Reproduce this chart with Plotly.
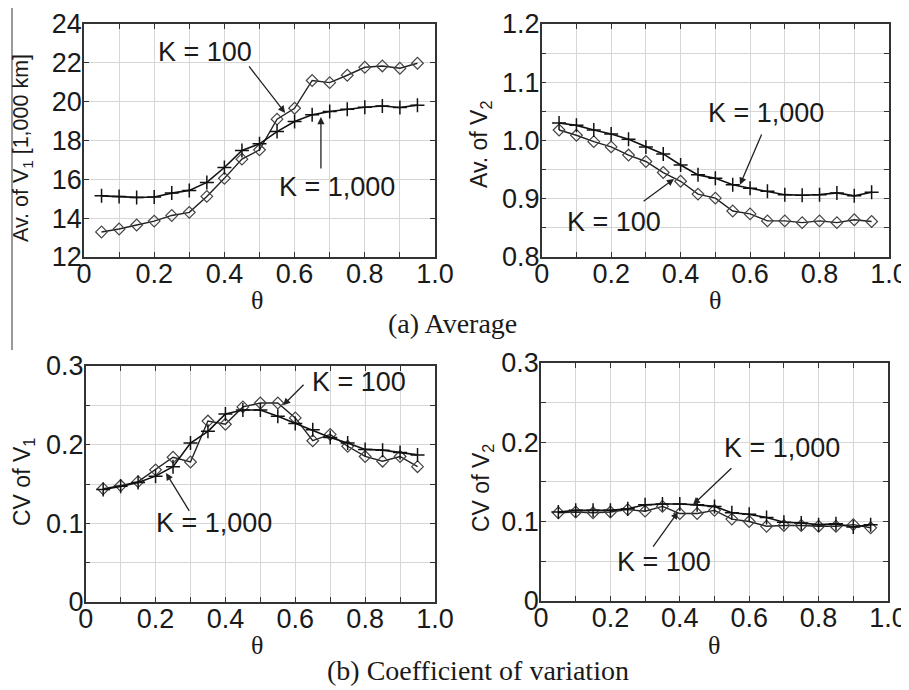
import plotly.graph_objects as go

theta = [0.05, 0.10, 0.15, 0.20, 0.25, 0.30, 0.35, 0.40, 0.45, 0.50,
         0.55, 0.60, 0.65, 0.70, 0.75, 0.80, 0.85, 0.90, 0.95]

av_v1_k100 = [13.29, 13.44, 13.65, 13.85, 14.14, 14.30, 15.12, 16.05, 17.04, 17.52,
              19.10, 19.66, 21.09, 20.98, 21.36, 21.77, 21.84, 21.72, 21.98]
av_v1_k1000 = [15.15, 15.12, 15.07, 15.09, 15.29, 15.43, 15.84, 16.61, 17.49, 17.83,
               18.46, 18.98, 19.32, 19.49, 19.61, 19.71, 19.78, 19.70, 19.82]

av_v2_k100 = [1.018, 1.009, 0.998, 0.989, 0.975, 0.964, 0.945, 0.930, 0.908, 0.901,
              0.879, 0.874, 0.862, 0.862, 0.859, 0.862, 0.859, 0.864, 0.861]
av_v2_k1000 = [1.030, 1.026, 1.018, 1.011, 1.002, 0.989, 0.977, 0.958, 0.941, 0.935,
               0.924, 0.918, 0.913, 0.907, 0.906, 0.907, 0.910, 0.905, 0.911]

cv_v1_k100 = [0.144, 0.148, 0.153, 0.168, 0.184, 0.178, 0.230, 0.226, 0.248, 0.253,
              0.253, 0.234, 0.205, 0.213, 0.198, 0.185, 0.179, 0.185, 0.172]
cv_v1_k1000 = [0.143, 0.147, 0.152, 0.160, 0.172, 0.202, 0.217, 0.239, 0.244, 0.244,
               0.236, 0.227, 0.219, 0.209, 0.202, 0.194, 0.193, 0.190, 0.187]

cv_v2_k100 = [0.111, 0.112, 0.111, 0.112, 0.115, 0.113, 0.119, 0.110, 0.110, 0.114,
              0.103, 0.100, 0.094, 0.095, 0.095, 0.094, 0.094, 0.096, 0.092]
cv_v2_k1000 = [0.112, 0.114, 0.114, 0.114, 0.116, 0.121, 0.122, 0.122, 0.121, 0.119,
               0.111, 0.109, 0.105, 0.099, 0.098, 0.096, 0.097, 0.093, 0.096]

x_tickvals = [0, 0.1, 0.2, 0.3, 0.4, 0.5, 0.6, 0.7, 0.8, 0.9, 1.0]
x_ticktext = ["0", "", "0.2", "", "0.4", "", "0.6", "", "0.8", "", "1.0"]

y1_tickvals = [12, 14, 16, 18, 20, 22, 24]
y1_ticktext = ["12", "14", "16", "18", "20", "22", "24"]
y2_tickvals = [0.8, 0.85, 0.9, 0.95, 1.0, 1.05, 1.1, 1.15, 1.2]
y2_ticktext = ["0.8", "", "0.9", "", "1.0", "", "1.1", "", "1.2"]
y3_tickvals = [0, 0.05, 0.1, 0.15, 0.2, 0.25, 0.3]
y3_ticktext = ["0", "", "0.1", "", "0.2", "", "0.3"]

series_names = ["K = 100", "K = 1,000"]
y_titles = ["Av. of V<sub>1</sub> [1,000 km]", "Av. of V<sub>2</sub>",
            "CV of V<sub>1</sub>", "CV of V<sub>2</sub>"]
captions = ["(a) Average", "(b) Coefficient of variation"]

SANS = "Liberation Sans, Arial, sans-serif"
SERIF = "Liberation Serif, Times New Roman, serif"
TXT = "#1a1a1a"

OFF = 8.0  # page body margin
W, H = 909.0 - OFF, 690.0 - OFF  # keep the figure inside the window


def fx(px):
    return (px - OFF) / W


def fy(py):
    return 1 - (py - OFF) / H


fig = go.Figure()

panels = [
    ("x", "y", av_v1_k100, av_v1_k1000),
    ("x2", "y2", av_v2_k100, av_v2_k1000),
    ("x3", "y3", cv_v1_k100, cv_v1_k1000),
    ("x4", "y4", cv_v2_k100, cv_v2_k1000),
]
for xa, ya, k100, k1000 in panels:
    fig.add_trace(go.Scatter(
        x=theta, y=k100, xaxis=xa, yaxis=ya, mode="lines+markers",
        name=series_names[0], showlegend=False,
        line=dict(color="#222222", width=1.4),
        marker=dict(symbol="diamond-open", size=9, color="#444444",
                    line=dict(width=1.2, color="#444444"))))
    fig.add_trace(go.Scatter(
        x=theta, y=k1000, xaxis=xa, yaxis=ya, mode="lines+markers",
        name=series_names[1], showlegend=False,
        line=dict(color="#111111", width=1.6),
        marker=dict(symbol="cross-thin-open", size=10, color="#111111",
                    line=dict(width=1.5, color="#111111"))))


def xaxis(domain, anchor):
    return dict(domain=domain, anchor=anchor, range=[0, 1], automargin=False,
                tickvals=x_tickvals, ticktext=x_ticktext, ticklabelstandoff=-8,
                showline=True, linecolor="#333333", linewidth=1.5, mirror="ticks",
                ticks="inside", ticklen=5, tickcolor="#333333",
                showgrid=True, gridcolor="#d6d6d6", gridwidth=1, zeroline=False,
                tickfont=dict(family=SANS, size=27, color=TXT))


def yaxis(domain, anchor, rng, tv, tt):
    return dict(domain=domain, anchor=anchor, range=rng, automargin=False,
                tickvals=tv, ticktext=tt, ticklabelstandoff=-5,
                showline=True, linecolor="#333333", linewidth=1.5, mirror="ticks",
                ticks="inside", ticklen=5, tickcolor="#333333",
                showgrid=True, gridcolor="#d6d6d6", gridwidth=1, zeroline=False,
                tickfont=dict(family=SANS, size=27, color=TXT))


fig.update_layout(
    width=int(W), height=int(H),
    margin=dict(l=0, r=0, t=0, b=0, pad=0),
    paper_bgcolor="white", plot_bgcolor="white",
    xaxis=xaxis([fx(84), fx(435)], "y"),
    yaxis=yaxis([fy(257), fy(24)], "x", [12, 24], y1_tickvals, y1_ticktext),
    xaxis2=xaxis([fx(541.7), fx(889)], "y2"),
    yaxis2=yaxis([fy(257), fy(24)], "x2", [0.8, 1.2], y2_tickvals, y2_ticktext),
    xaxis3=xaxis([fx(85.7), fx(435)], "y3"),
    yaxis3=yaxis([fy(602), fy(366)], "x3", [0, 0.3], y3_tickvals, y3_ticktext),
    xaxis4=xaxis([fx(541), fx(888)], "y4"),
    yaxis4=yaxis([fy(600.7), fy(363)], "x4", [0, 0.3], y3_tickvals, y3_ticktext),
)

ann = []
# y-axis titles
for (px, py, fs), t in zip([(22, 148, 21.5), (480, 145, 23), (23, 482, 23), (482, 488, 23)],
                           y_titles):
    ann.append(dict(text=t, x=fx(px), y=fy(py), xref="paper", yref="paper",
                    textangle=-90, showarrow=False, xanchor="center", yanchor="middle",
                    font=dict(family=SANS, size=fs, color=TXT)))
# theta labels
for px, py in [(257, 300), (715, 300), (257, 645), (714, 645)]:
    ann.append(dict(text="θ", x=fx(px), y=fy(py), xref="paper", yref="paper",
                    showarrow=False, xanchor="center", yanchor="middle",
                    font=dict(family=SERIF, size=26, color=TXT)))
# captions
for (px, py), t in zip([(452, 323), (478, 670)], captions):
    ann.append(dict(text=t, x=fx(px), y=fy(py), xref="paper", yref="paper",
                    showarrow=False, xanchor="center", yanchor="middle",
                    font=dict(family=SERIF, size=28, color=TXT)))

# K labels (text) and arrows, in data coordinates of each panel
k_labels = [
    ("x", "y", series_names[0], 0.345, 22.56, (0.573, 19.42), (0.467, 21.89)),
    ("x", "y", series_names[1], 0.721, 15.6, (0.675, 19.21), (0.675, 16.48)),
    ("x2", "y2", series_names[1], 0.646, 1.047, (0.571, 0.924), (0.635, 1.013)),
    ("x2", "y2", series_names[0], 0.208, 0.860, (0.381, 0.934), (0.289, 0.894)),
    ("x3", "y3", series_names[0], 0.782, 0.280, (0.565, 0.250), (0.628, 0.278)),
    ("x3", "y3", series_names[1], 0.367, 0.100, (0.230, 0.164), (0.299, 0.114)),
    ("x4", "y4", series_names[1], 0.695, 0.193, (0.438, 0.121), (0.553, 0.169)),
    ("x4", "y4", series_names[0], 0.354, 0.049, (0.395, 0.112), (0.320, 0.0665)),
]
for xa, ya, t, tx, ty, tip, tail in k_labels:
    ann.append(dict(text=t, x=tx, y=ty, xref=xa, yref=ya, showarrow=False,
                    xanchor="center", yanchor="middle",
                    font=dict(family=SANS, size=27, color=TXT)))
    ann.append(dict(text="", x=tip[0], y=tip[1], xref=xa, yref=ya,
                    ax=tail[0], ay=tail[1], axref=xa, ayref=ya,
                    showarrow=True, arrowhead=2, arrowsize=1.1, arrowwidth=1.3,
                    arrowcolor="#222222", standoff=0, startstandoff=0))

fig.update_layout(annotations=ann)

# left vertical scan line
fig.add_shape(type="line", xref="paper", yref="paper",
              x0=fx(12), x1=fx(12), y0=1.0, y1=fy(350),
              line=dict(color="#777777", width=1.5))

fig.write_html("out.html")
